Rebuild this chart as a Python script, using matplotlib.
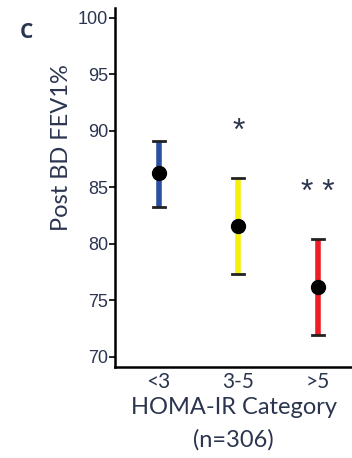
import matplotlib.pyplot as plt

categories = ['<3', '3-5', '>5']
means = [86.3, 81.6, 76.2]
upper = [89.1, 85.8, 80.4]
lower = [83.3, 77.3, 71.9]
colors = ['#2a4fa0', '#f5ef0a', '#ee1c24']
stars = ['', '*', '* *']
star_y = [0, 89.9, 84.5]

yticks = [70, 75, 80, 85, 90, 95, 100]
text_col = '#2b3550'

fig = plt.figure(figsize=(3.52, 4.58), dpi=100)
ax = fig.add_axes([0.327, 0.199, 0.673, 0.784])

x = list(range(len(categories)))
for i in x:
    ax.plot([i, i], [lower[i], upper[i]], color=colors[i], lw=4, solid_capstyle='butt', zorder=2)
    for v in (lower[i], upper[i]):
        ax.plot([i - 0.075, i + 0.075], [v, v], color='#222222', lw=2, zorder=3)
    ax.plot(i, means[i], 'o', color='black', ms=10, zorder=4)
    if stars[i]:
        ax.text(i, star_y[i], stars[i], ha='center', va='center', fontsize=23,
                color=text_col, family='Liberation Sans')

ax.set_xlim(-0.55, 2.43)
ax.set_ylim(69.1, 100.9)
ax.set_yticks(yticks)
ax.set_xticks(x)
ax.set_xticklabels(categories, family='Lato', fontsize=15, color=text_col)
ax.tick_params(axis='x', length=0, pad=4)
ax.tick_params(axis='y', length=4, width=1.2, labelsize=13, labelcolor=text_col, pad=1)
for t in ax.get_yticklabels():
    t.set_family('Liberation Sans')

for s in ['top', 'right']:
    ax.spines[s].set_visible(False)
for s in ['left', 'bottom']:
    ax.spines[s].set_linewidth(1.8)

ax.set_ylabel('Post BD FEV1%', family='Lato', fontsize=17, color=text_col)
ax.yaxis.set_label_coords(-0.181, 0.61)
ax.set_xlabel('HOMA-IR Category\n(n=306)', family='Lato', fontsize=17, color=text_col,
              labelpad=3, linespacing=1.65)

fig.text(26 / 352, 1 - 32 / 458, 'C', family='Open Sans', fontweight='bold', fontsize=15,
         color=text_col, ha='center', va='center')

fig.savefig('out.png', dpi=100)
